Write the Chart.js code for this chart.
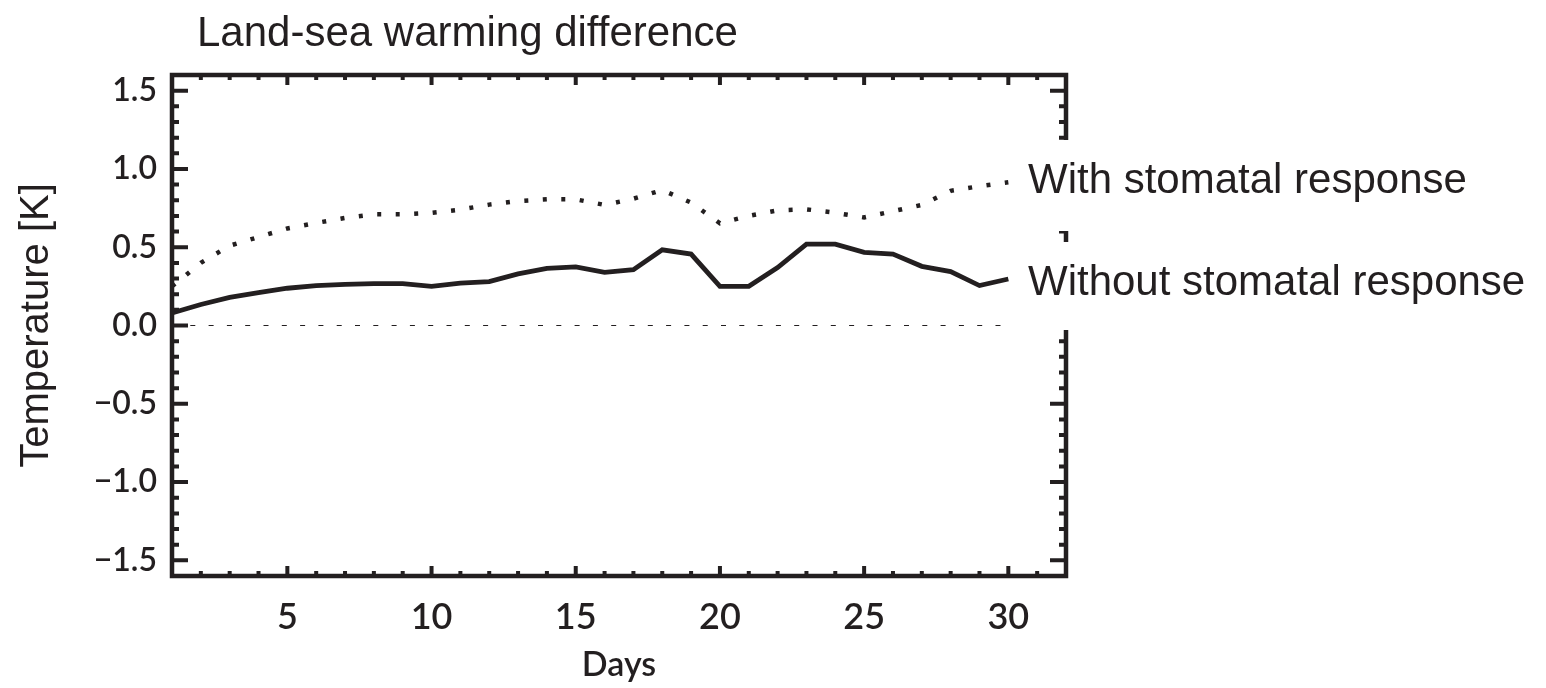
<!DOCTYPE html>
<html>
<head>
<meta charset="utf-8">
<script src="https://cdn.jsdelivr.net/npm/chart.js@4"></script>
<style>
  html, body { margin: 0; padding: 0; background: #fff; }
  #wrap { width: 1546px; height: 688px; position: relative; }
</style>
</head>
<body>
<div id="wrap"><canvas id="warmingChart"></canvas></div>
<script>
// Land minus sea warming, daily values
const days = [1, 2, 3, 4, 5, 6, 7, 8, 9, 10, 11, 12, 13, 14, 15,
              16, 17, 18, 19, 20, 21, 22, 23, 24, 25, 26, 27, 28, 29, 30];
const withStomatal = [0.25, 0.40, 0.51, 0.565, 0.62, 0.655, 0.687, 0.71, 0.71, 0.72,
                      0.74, 0.772, 0.795, 0.806, 0.806, 0.77, 0.81, 0.865, 0.785, 0.653,
                      0.70, 0.735, 0.742, 0.72, 0.69, 0.73, 0.77, 0.86, 0.89, 0.915];
const withoutStomatal = [0.08, 0.134, 0.18, 0.21, 0.238, 0.255, 0.263, 0.267, 0.267, 0.25,
                         0.27, 0.28, 0.33, 0.365, 0.375, 0.34, 0.356, 0.483, 0.456, 0.25,
                         0.25, 0.37, 0.52, 0.52, 0.467, 0.456, 0.378, 0.344, 0.255, 0.297];
const zeroDays = [1, 30];
const zeroLine = [0, 0];

const xTicks = [5, 10, 15, 20, 25, 30];
const yTicks = [-1.5, -1.0, -0.5, 0.0, 0.5, 1.0, 1.5];

const ink = '#231f20';
const sans = '"Liberation Sans", Arial, sans-serif';
const tickFont = 'Lato, "DejaVu Sans", sans-serif';

const toPoints = (xs, ys) => xs.map((d, i) => ({ x: d, y: ys[i] }));

// Boxed axes with inward ticks, title and the two line labels
const framePlugin = {
    id: 'frame',
    afterDraw(chart) {
        const { ctx, chartArea: a, scales: { x, y } } = chart;
        ctx.save();
        ctx.strokeStyle = ink;
        ctx.lineCap = 'butt';
        ctx.lineWidth = 4.5;
        ctx.strokeRect(a.left, a.top, a.right - a.left, a.bottom - a.top);

        ctx.lineWidth = 4;
        ctx.beginPath();
        for (let i = -15; i <= 15; i++) {
            const py = y.getPixelForValue(i / 10);
            const len = i % 5 === 0 ? 16 : 7;
            ctx.moveTo(a.left, py); ctx.lineTo(a.left + len, py);
            ctx.moveTo(a.right, py); ctx.lineTo(a.right - len, py);
        }
        for (let d = 2; d <= 31; d++) {
            const px = x.getPixelForValue(d);
            const len = d % 5 === 0 ? 10 : 5;
            ctx.moveTo(px, a.bottom); ctx.lineTo(px, a.bottom - len);
            ctx.moveTo(px, a.top); ctx.lineTo(px, a.top + len);
        }
        ctx.stroke();

        // label boxes sit over the right-hand axis
        ctx.fillStyle = '#fff';
        ctx.fillRect(1012, 140, 534, 91);
        ctx.fillRect(1012, 242, 534, 88);

        ctx.fillStyle = ink;
        ctx.font = '42px ' + sans;
        ctx.textAlign = 'left';
        ctx.textBaseline = 'alphabetic';
        ctx.fillText('With stomatal response', 1028, 193);
        ctx.fillText('Without stomatal response', 1028, 295);
        ctx.fillText('Land-sea warming difference', 197, 46);
        ctx.restore();
    }
};

const ctx = document.getElementById('warmingChart').getContext('2d');
const warmingChart = new Chart(ctx, {
    type: 'line',
    data: {
        datasets: [{
            label: 'With stomatal response',
            data: toPoints(days, withStomatal),
            borderColor: ink,
            borderWidth: 4.5,
            borderDash: [4, 14.5],
            borderCapStyle: 'butt',
            pointRadius: 0,
            tension: 0
        }, {
            label: 'Without stomatal response',
            data: toPoints(days, withoutStomatal),
            borderColor: ink,
            borderWidth: 4.8,
            borderJoinStyle: 'miter',
            pointRadius: 0,
            tension: 0
        }, {
            label: 'zero',
            data: toPoints(zeroDays, zeroLine),
            borderColor: ink,
            borderWidth: 1.2,
            borderDash: [5, 13.3],
            pointRadius: 0
        }]
    },
    options: {
        responsive: true,
        maintainAspectRatio: false,
        animation: false,
        layout: { padding: { top: 75, right: 480, left: 0, bottom: 0 } },
        plugins: {
            legend: { display: false },
            tooltip: { enabled: false }
        },
        scales: {
            x: {
                type: 'linear',
                min: 1,
                max: 32,
                grid: { display: false, drawTicks: false },
                border: { display: false },
                afterBuildTicks: scale => { scale.ticks = xTicks.map(v => ({ value: v })); },
                afterFit: scale => { scale.height = 112; },
                ticks: {
                    color: ink,
                    padding: 20,
                    maxRotation: 0,
                    font: { family: tickFont, size: 36, weight: '600' },
                    callback: v => String(v)
                },
                title: {
                    display: true,
                    text: 'Days',
                    color: ink,
                    padding: { top: 0, bottom: 3 },
                    font: { family: tickFont, size: 34, weight: '600' }
                }
            },
            y: {
                min: -1.6,
                max: 1.6,
                grid: { display: false, drawTicks: false },
                border: { display: false },
                afterBuildTicks: scale => { scale.ticks = yTicks.map(v => ({ value: v })); },
                afterFit: scale => { scale.width = 172; },
                ticks: {
                    color: ink,
                    padding: 15,
                    font: { family: tickFont, size: 32, weight: '600' },
                    callback: v => v.toFixed(1).replace('-', '\u2212')
                },
                title: {
                    display: true,
                    text: 'Temperature [K]',
                    color: ink,
                    padding: { top: 13, bottom: 0 },
                    font: { family: sans, size: 40 }
                }
            }
        }
    },
    plugins: [framePlugin]
});
</script>
</body>
</html>
